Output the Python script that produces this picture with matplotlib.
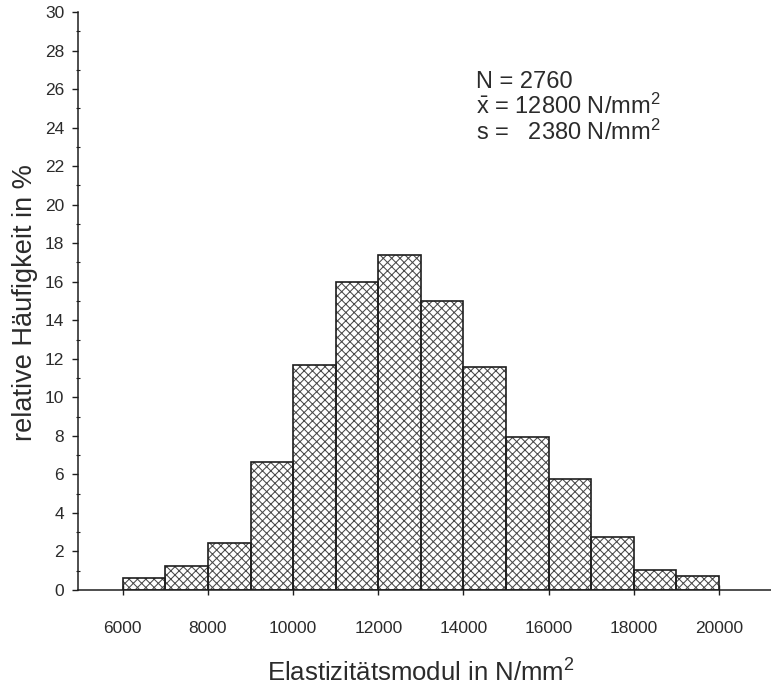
import numpy as np
import matplotlib
matplotlib.use('Agg')
import matplotlib.pyplot as plt
from matplotlib.ticker import MultipleLocator

plt.rcParams['font.family'] = ['Liberation Sans', 'DejaVu Sans']
plt.rcParams['mathtext.fontset'] = 'custom'
plt.rcParams['mathtext.rm'] = 'Liberation Sans'
plt.rcParams['mathtext.it'] = 'Liberation Sans'
plt.rcParams['hatch.linewidth'] = 0.75

# Klassen (linke Klassengrenze, Breite 1000 N/mm2) und relative Haeufigkeit in %
klassen_links = [6000, 7000, 8000, 9000, 10000, 11000, 12000,
                 13000, 14000, 15000, 16000, 17000, 18000, 19000]
haeufigkeit = [0.6, 1.25, 2.45, 6.65, 11.7, 16.0, 17.4,
               15.0, 11.6, 7.95, 5.75, 2.75, 1.05, 0.75]
klassenbreite = 1000
x_ticks = [6000, 8000, 10000, 12000, 14000, 16000, 18000, 20000]
y_ticks = list(range(0, 31, 2))

N = 2760
x_mittel = 12800
s = 2380

txt = '#2b2b2b'
fig = plt.figure(figsize=(7.71, 6.97), dpi=100)
ax = fig.add_axes([78/771, 107/697, 693/771, 578/697])

# Schraffur und Umriss getrennt, damit die Kreuzschraffur etwas heller wirkt
ax.bar(klassen_links, haeufigkeit, width=klassenbreite, align='edge',
       facecolor='white', edgecolor='#4a4a4a', hatch='xxxx', linewidth=0)
ax.bar(klassen_links, haeufigkeit, width=klassenbreite, align='edge',
       fill=False, edgecolor='#1e1e1e', linewidth=1.2)

ax.set_xlim(4950, 21220)
ax.set_ylim(0, 30)
ax.set_xticks(x_ticks)
ax.set_yticks(y_ticks)
ax.yaxis.set_minor_locator(MultipleLocator(1))

for sp in ['top', 'right']:
    ax.spines[sp].set_visible(False)
for sp in ['left', 'bottom']:
    ax.spines[sp].set_linewidth(1.1)
    ax.spines[sp].set_color('#1e1e1e')

ax.tick_params(axis='x', direction='inout', length=7, width=1, pad=19,
               labelsize=12.5, labelcolor=txt, color='#1e1e1e')
ax.tick_params(axis='y', which='major', direction='out', length=4, width=1,
               pad=6, labelsize=12.5, labelcolor=txt, color='#1e1e1e')
ax.tick_params(axis='y', which='minor', direction='inout', length=3, width=0.8,
               color='#1e1e1e')

ax.set_xlabel('Elastizitätsmodul in N/mm$^2$', fontsize=18.5, color=txt)
ax.xaxis.set_label_coords(0.495, -0.12)
ax.set_ylabel('relative Häufigkeit in %', fontsize=19.5, color=txt)
ax.yaxis.set_label_coords(-0.058, 0.497)

fig.text(476/771, 1 - 88/697, f'N = {N}', fontsize=17, color=txt, va='baseline')
fig.text(476/771, 1 - 114/697, r'$\bar{\mathrm{x}}$' + f' = {x_mittel} N/mm$^2$',
         fontsize=17, color=txt, va='baseline')
fig.text(476/771, 1 - 140/697, f's =   {s} N/mm$^2$', fontsize=17, color=txt,
         va='baseline')

fig.savefig('out.png', dpi=100)
